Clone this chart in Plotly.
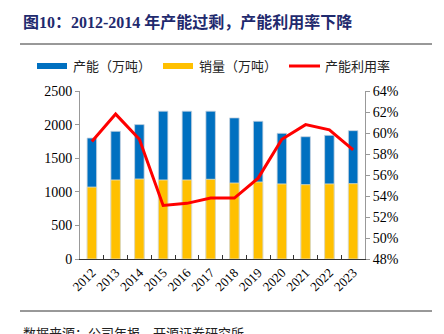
import plotly.graph_objects as go

years = ["2012", "2013", "2014", "2015", "2016", "2017", "2018", "2019", "2020", "2021", "2022", "2023"]
capacity = [1800, 1900, 2000, 2200, 2200, 2200, 2100, 2050, 1870, 1820, 1840, 1910]
sales = [1070, 1176, 1190, 1176, 1176, 1186, 1131, 1146, 1117, 1106, 1117, 1121]
utilization = [59.2, 61.8, 59.4, 53.1, 53.3, 53.8, 53.8, 55.7, 59.4, 60.8, 60.3, 58.4]
series_names = ["产能（万吨）", "销量（万吨）", "产能利用率"]

BLUE = "#0070C0"
YELLOW = "#FFC000"
RED = "#FF0000"
SERIF = "Liberation Serif, Noto Sans CJK SC"

fig = go.Figure()
fig.add_trace(go.Bar(x=years, y=capacity, name=series_names[0],
                     marker=dict(color=BLUE, line=dict(color="#C8D3E0", width=0.8)),
                     width=0.4, showlegend=False))
fig.add_trace(go.Bar(x=years, y=sales, name=series_names[1],
                     marker=dict(color=YELLOW, line=dict(color="#E6E0C8", width=0.8)),
                     width=0.4, showlegend=False))
fig.add_trace(go.Scatter(x=years, y=utilization, name=series_names[2], mode="lines", yaxis="y2",
                         line=dict(color=RED, width=3), showlegend=False))

L, R, T, B = 80, 79, 91, 75
W, H = 444, 334
PW, PH = W - L - R, H - T - B

def px(x):
    return (x - L) / PW

def py(y):
    return (H - B - y) / PH

shapes = [
    dict(type="line", xref="paper", yref="paper", x0=px(20), x1=px(432), y0=py(44), y1=py(44),
         line=dict(color="#333", width=1)),
    dict(type="line", xref="paper", yref="paper", x0=px(20), x1=px(432), y0=py(311), y1=py(311),
         line=dict(color="#333", width=1)),
]
annotations = [
    dict(text="<b>图10：2012-2014 年产能过剩，产能利用率下降</b>", xref="paper", yref="paper",
         x=px(21), y=py(22), xanchor="left", yanchor="middle", showarrow=False,
         font=dict(family=SERIF, size=16, color="#1F2A6E")),
    dict(text="数据来源：公司年报、开源证券研究所", xref="paper", yref="paper",
         x=px(21), y=py(324), xanchor="left", yanchor="top", showarrow=False,
         font=dict(family=SERIF, size=13, color="#222")),
]

# custom legend (swatch + label)
legend_items = [(series_names[0], BLUE, 37, "rect"), (series_names[1], YELLOW, 163, "rect"),
                (series_names[2], RED, 289, "line")]
for name, color, x0, kind in legend_items:
    if kind == "rect":
        shapes.append(dict(type="rect", xref="paper", yref="paper", x0=px(x0), x1=px(x0 + 30),
                           y0=py(69), y1=py(63), fillcolor=color, line=dict(width=0)))
    else:
        shapes.append(dict(type="line", xref="paper", yref="paper", x0=px(x0), x1=px(x0 + 31),
                           y0=py(66), y1=py(66), line=dict(color=color, width=3)))
    annotations.append(dict(text=name, xref="paper", yref="paper", x=px(x0 + 34), y=py(66),
                            xanchor="left", yanchor="middle", showarrow=False,
                            font=dict(family=SERIF, size=13, color="#222")))

fig.update_layout(
    width=W, height=H,
    margin=dict(l=L, r=R, t=T, b=B),
    paper_bgcolor="white", plot_bgcolor="white",
    barmode="overlay",
    showlegend=False,
    font=dict(family=SERIF, size=13, color="black"),
    xaxis=dict(type="category", showline=True, linecolor="#333", linewidth=1,
               ticks="inside", tickson="boundaries", ticklen=4, tickcolor="#333",
               tickangle=-45, tickfont=dict(family=SERIF, size=13), showgrid=False),
    yaxis=dict(range=[0, 2500], dtick=500, showline=True, linecolor="#999", linewidth=1,
               ticks="outside", ticklen=4, tickcolor="#999", showgrid=False, zeroline=False,
               tickfont=dict(family=SERIF, size=14)),
    yaxis2=dict(range=[48, 64], dtick=2, overlaying="y", side="right", showline=True,
                linecolor="#999", linewidth=1, ticks="outside", ticklen=4, tickcolor="#999",
                ticksuffix="%", showgrid=False, zeroline=False, tickfont=dict(family=SERIF, size=14)),
    shapes=shapes,
    annotations=annotations,
)

fig.write_html("out.html")
